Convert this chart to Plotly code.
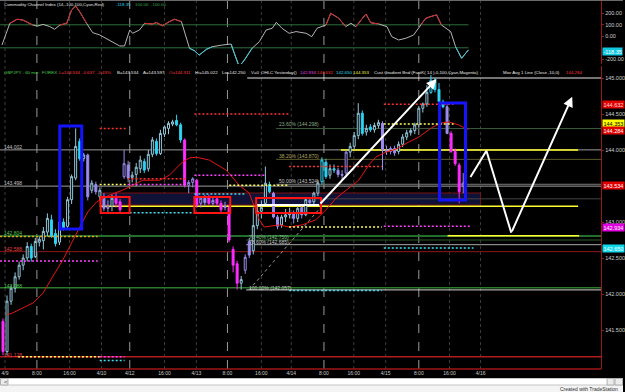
import plotly.graph_objects as go

# ---------------- data ----------------
bar_open = [141.62, 141.20, 141.90, 142.08, 142.24, 142.40, 142.50, 142.66, 142.52, 142.72,
            142.74, 142.86, 143.03, 142.84, 142.72, 143.00, 142.94, 143.31, 143.61, 144.12,
            143.88, 143.93, 143.44, 143.52, 143.35, 143.35, 143.19, 143.22, 143.33, 143.28,
            143.63, 143.79, 143.62, 143.66, 143.74, 143.84, 143.74, 143.94, 144.12, 143.95,
            144.22, 144.30, 144.36, 144.41, 144.35, 144.14, 143.51, 143.55, 143.58, 143.26,
            143.33, 143.35, 143.26, 143.32, 143.26, 143.20, 143.20, 142.62, 142.42, 142.15,
            142.33, 142.73, 142.60, 142.95, 143.15, 143.26, 143.52, 143.40, 143.07, 142.96,
            143.07, 143.10, 143.12, 143.05, 143.20, 143.10, 143.30, 143.28, 143.40, 143.56,
            143.83, 143.65, 143.74, 143.72, 143.66, 143.68, 143.97, 144.05, 144.20, 144.51,
            144.25, 144.32, 144.28, 144.34, 144.37, 144.00, 143.98, 144.02, 143.98, 144.08,
            144.18, 144.24, 144.27, 144.35, 144.58, 144.64, 144.80, 144.97, 144.84, 144.67,
            144.60, 144.23, 143.98, 143.79, 143.50]
bar_high = [141.66, 141.98, 142.12, 142.30, 142.45, 142.55, 142.72, 142.70, 142.78, 142.80,
            142.93, 143.12, 143.10, 142.90, 143.02, 143.05, 143.35, 143.66, 144.30, 144.16,
            143.96, 143.95, 143.58, 143.56, 143.48, 143.40, 143.30, 143.38, 143.40, 143.32,
            144.00, 143.85, 143.70, 143.82, 143.92, 143.88, 144.00, 144.18, 144.16, 144.28,
            144.34, 144.40, 144.42, 144.49, 144.38, 144.16, 143.58, 143.62, 143.60, 143.36,
            143.38, 143.38, 143.34, 143.36, 143.30, 143.28, 143.24, 142.66, 142.46, 142.25,
            142.55, 142.78, 143.20, 143.25, 143.30, 143.77, 143.56, 143.42, 143.10, 143.10,
            143.18, 143.20, 143.16, 143.25, 143.24, 143.34, 143.34, 143.42, 143.58, 143.90,
            143.88, 143.80, 143.80, 143.75, 143.72, 144.00, 144.10, 144.25, 144.65, 144.55,
            144.35, 144.36, 144.38, 144.42, 144.40, 144.06, 144.05, 144.06, 144.12, 144.22,
            144.28, 144.30, 144.38, 144.61, 144.66, 144.90, 145.04, 145.00, 144.93, 144.70,
            144.64, 144.26, 144.02, 143.82, 143.68]
bar_low = [141.15, 141.15, 141.85, 142.02, 142.20, 142.33, 142.45, 142.45, 142.50, 142.66,
           142.62, 142.80, 142.78, 142.66, 142.68, 142.88, 142.90, 143.25, 143.58, 143.85,
           143.84, 143.30, 143.40, 143.38, 143.30, 143.15, 143.14, 143.15, 143.20, 143.12,
           143.60, 143.55, 143.55, 143.50, 143.68, 143.68, 143.70, 143.90, 143.92, 143.93,
           144.18, 144.22, 144.33, 144.33, 144.10, 143.48, 143.40, 143.48, 143.20, 143.20,
           143.22, 143.24, 143.22, 143.22, 143.13, 143.16, 142.72, 142.30, 142.06, 142.06,
           142.28, 142.50, 142.55, 142.90, 143.05, 143.22, 143.40, 143.05, 142.90, 142.92,
           143.00, 143.05, 142.98, 143.00, 143.05, 143.08, 143.22, 143.24, 143.36, 143.52,
           143.60, 143.60, 143.68, 143.62, 143.58, 143.62, 143.90, 144.00, 144.15, 144.20,
           144.20, 144.25, 144.24, 144.30, 143.72, 143.93, 143.94, 143.92, 143.94, 144.04,
           144.14, 144.20, 144.22, 144.32, 144.52, 144.60, 144.78, 144.80, 144.64, 144.58,
           144.22, 143.96, 143.78, 143.26, 143.40]
bar_close = [141.20, 141.90, 142.08, 142.24, 142.40, 142.50, 142.66, 142.50, 142.73, 142.76,
             142.87, 143.05, 142.80, 142.70, 143.00, 142.91, 143.31, 143.63, 144.05, 143.88,
             143.93, 143.35, 143.54, 143.42, 143.44, 143.19, 143.22, 143.33, 143.26, 143.17,
             143.81, 143.61, 143.65, 143.76, 143.86, 143.72, 143.94, 144.14, 143.95, 144.23,
             144.32, 144.37, 144.39, 144.35, 144.14, 143.51, 143.55, 143.60, 143.24, 143.33,
             143.27, 143.26, 143.30, 143.26, 143.17, 143.22, 142.75, 142.40, 142.15, 142.20,
             142.51, 142.54, 142.95, 143.15, 143.20, 143.54, 143.42, 143.07, 142.94, 143.07,
             143.10, 143.12, 143.05, 143.19, 143.10, 143.31, 143.27, 143.40, 143.54, 143.86,
             143.63, 143.74, 143.72, 143.66, 143.65, 143.97, 144.05, 144.20, 144.51, 144.23,
             144.30, 144.28, 144.34, 144.38, 144.00, 143.98, 144.02, 143.96, 144.08, 144.18,
             144.24, 144.27, 144.35, 144.58, 144.64, 144.80, 144.97, 144.84, 144.67, 144.60,
             144.23, 143.98, 143.81, 143.42, 143.54]
# gradient colour class of each bar (g = light blue, c = cyan, l = lavender, m = magenta)
bar_class = ["m", "g", "g", "g", "g", "g", "g", "c", "g", "g",
             "g", "g", "c", "c", "g", "c", "g", "g", "g", "c",
             "g", "l", "g", "l", "g", "l", "l", "g", "m", "m",
             "l", "l", "g", "g", "g", "c", "g", "g", "c", "g",
             "g", "g", "g", "c", "c", "m", "l", "l", "m", "l",
             "l", "m", "l", "m", "m", "l", "m", "m", "m", "g",
             "l", "l", "g", "g", "g", "g", "c", "l", "l", "g",
             "g", "g", "l", "g", "l", "g", "l", "g", "g", "c",
             "c", "g", "c", "l", "l", "l", "g", "g", "g", "c",
             "g", "c", "g", "g", "l", "l", "l", "l", "g", "g",
             "g", "g", "g", "g", "g", "g", "c", "c", "c", "c",
             "l", "m", "m", "m", "l"]

# moving average (Close,10): (bar index, price)
ma_x = [1.0, 2.5, 7.4, 9.9, 12.3, 14.8, 17.0, 19.0, 21.0, 23.2, 26.4, 29.6, 32.1, 34.6, 38.8,
        41.2, 44.4, 46.2, 47.9, 51.1, 55.3, 56.8, 58.5, 61.0, 62.2, 63.5, 64.7, 68.4, 70.9,
        74.1, 77.5, 80.0, 82.5, 85.7, 88.1, 90.6, 92.3, 94.8, 97.3, 100.5, 103.0, 106.2,
        108.6, 110.4, 112.8, 115.3]
ma_y = [141.71, 141.74, 141.875, 142.01, 142.24, 142.47, 142.71, 142.93, 143.14, 143.28,
        143.375, 143.44, 143.51, 143.58, 143.58, 143.65, 143.83, 143.89, 143.90, 143.86,
        143.72, 143.625, 143.51, 143.40, 143.21, 143.03, 142.93, 142.96, 142.93, 142.96,
        143.03, 143.17, 143.33, 143.47, 143.58, 143.79, 143.90, 143.97, 144.01, 144.11,
        144.18, 144.31, 144.375, 144.39, 144.35, 144.284]

# Commodity Channel Index (14): (bar index, value)
cci_x = [-0.25, 1.7, 3.5, 4.9, 7.4, 8.6, 9.9, 11.6, 12.8, 14.1, 15.8, 17.0, 18.0, 19.0, 20.7,
         22.2, 24.0, 26.4, 28.9, 30.1, 31.4, 32.1, 33.8, 35.1, 37.0, 38.0, 39.5, 41.2, 42.5,
         44.2, 46.2, 47.4, 48.6, 50.4, 51.9, 54.3, 56.5, 57.3, 58.5, 59.8, 61.7, 63.5, 65.2,
         66.7, 67.7, 69.1, 70.9, 72.6, 75.1, 76.5, 77.8, 80.0, 81.2, 83.2, 84.9, 86.2, 87.4,
         89.9, 91.1, 93.1, 95.1, 96.3, 98.0, 99.8, 101.7, 103.5, 104.7, 105.9, 107.4, 108.6,
         110.9, 112.1, 113.6, 115.3]
cci_v = [-76, 113, 148, 142, 98, 89, 104, 84, 61, 98, 113, 229, 263, 214, 113,
         32, 11, -32, -84, -84, 55, 26, 55, 113, 107, 119, 92, 127, 148,
         127, -104, -125, -163, -113, -90, -76, -67, -148, -264, -206, -104, -47, 55,
         70, 122, 70, 26, 41, 26, -3, 70, 99, 200, 156, 84, 113, 84,
         194, 118, 107, 84, -3, -32, -17, 11, 98, 156, 171, 186, 98,
         41, -90, -191, -118.35]

# hand-drawn projection (zig-zag) and trend arrow, in (bar index, price)
proj_x = [115.8, 119.75, 125.9, 141.0]
proj_y = [143.625, 143.99, 142.85, 144.74]
trend_x = [62.7, 78.3, 107.4]
trend_y = [143.236, 143.236, 144.986]
fibline_x = [61.0, 78.8]
fibline_y = [142.06, 143.21]

tick_pos = [0.5, 8.4, 16.5, 24.4, 31.4, 40.0, 47.9, 55.6, 64.0, 71.4, 79.5, 86.9, 94.8, 103.0, 110.6, 118.3]
tick_lbl = ["4/9", "8:00", "16:00", "4/10", "4/12", "16:00", "4/13", "8:00", "16:00", "4/14",
            "8:00", "16:00", "4/15", "8:00", "16:00", "4/16"]
price_ticks = [141.5, 142.0, 142.5, 143.0, 144.0, 144.5, 145.0]
cci_ticks = [-200, 0, 100, 200]

# ---------------- geometry helpers (pixel -> axis units) ----------------
W, H = 625, 392
PX0, PXB = 3.0, 4.05


def X(px):
    return (px - PX0) / PXB


def P(py):
    return 145 - (py - 78) / 72.0


def C(py):
    return (36.3 - py) / 0.115


def yp(py):
    return 1 - py / H


def xp(px):
    return px / W


FONT = "Liberation Sans, Arial, sans-serif"
fig = go.Figure()

# ---------------- CCI panel ----------------
fig.add_trace(go.Scatter(x=cci_x, y=cci_v, mode="lines", line=dict(color="#b4b4b4", width=1),
                         xaxis="x2", yaxis="y2", hoverinfo="skip", showlegend=False))
for cond, col in ((lambda m: m > 100, "#d42020"), (lambda m: m < -100, "#3cc8dc")):
    xs, ys = [], []
    for i in range(len(cci_x) - 1):
        if cond((cci_v[i] + cci_v[i + 1]) / 2):
            xs += [cci_x[i], cci_x[i + 1], None]
            ys += [cci_v[i], cci_v[i + 1], None]
    fig.add_trace(go.Scatter(x=xs, y=ys, mode="lines", line=dict(color=col, width=1),
                             xaxis="x2", yaxis="y2", hoverinfo="skip", showlegend=False))

# ---------------- candles (one trace per colour class) ----------------
class_col = {"g": "#93c6da", "c": "#2fd2f2", "l": "#9c8cf0", "m": "#ff2cff"}
for k, col in class_col.items():
    idx = [i for i, c in enumerate(bar_class) if c == k]
    fig.add_trace(go.Candlestick(
        x=idx, open=[bar_open[i] for i in idx], high=[bar_high[i] for i in idx],
        low=[bar_low[i] for i in idx], close=[bar_close[i] for i in idx],
        increasing=dict(line=dict(color=col, width=1), fillcolor="#000000"),
        decreasing=dict(line=dict(color=col, width=1), fillcolor=col),
        whiskerwidth=0, hoverinfo="skip", showlegend=False, xaxis="x", yaxis="y"))

fig.add_trace(go.Scatter(x=ma_x, y=ma_y, mode="lines", line=dict(color="#e81414", width=1),
                         hoverinfo="skip", showlegend=False))
fig.add_trace(go.Scatter(x=fibline_x, y=fibline_y, mode="lines",
                         line=dict(color="#9a9a9a", width=1, dash="dot"), hoverinfo="skip", showlegend=False))
fig.add_trace(go.Scatter(x=trend_x[:2], y=trend_y[:2], mode="lines",
                         line=dict(color="#ffffff", width=2), hoverinfo="skip", showlegend=False))
fig.add_trace(go.Scatter(x=proj_x[:3], y=proj_y[:3], mode="lines",
                         line=dict(color="#ffffff", width=2), hoverinfo="skip", showlegend=False))

shapes = []
annotations = []

# vertical session/time grid
for pos, lbl in zip(tick_pos, tick_lbl):
    bright = lbl in ("8:00", "4/12")
    shapes.append(dict(type="line", xref="x", yref="paper", x0=pos, x1=pos, y0=yp(369), y1=yp(1),
                       line=dict(color="#9a9a9a" if bright else "#3c3c3c", width=1,
                                 dash="dash" if bright else "dot"), layer="below"))

# CCI +/-100 lines
for v in (100, -100):
    shapes.append(dict(type="line", xref="x2", yref="y2", x0=X(0), x1=X(470), y0=v, y1=v,
                       line=dict(color="#2e6e3c", width=1), layer="below"))

# hatched zone
shapes.append(dict(type="rect", xref="x", yref="y", x0=X(100), x1=X(482), y0=P(205), y1=P(193),
                   fillcolor="#0f1236", line=dict(color="#7a1010", width=1), layer="below"))

# solid horizontal levels: (price, x0 px, x1 px, colour, width)
solid_levels = [
    (145.000, 248, 603, "#e8e8e8", 1),
    (144.002, 0, 603, "#9c9c9c", 1),
    (143.498, 0, 603, "#9c9c9c", 1),
    (142.804, 0, 603, "#226e2c", 2),
    (142.588, 0, 603, "#8c1818", 1),
    (142.088, 0, 603, "#2a7a2a", 1.5),
    (141.128, 0, 603, "#b01c1c", 1.5),
    (144.298, 277, 603, "#3a5a3a", 1),
    (143.870, 277, 603, "#5c5a2a", 1),
    (143.524, 277, 603, "#7a7a7a", 1),
    (143.322, 277, 603, "#444444", 1),
    (142.750, 247, 603, "#2b5f2b", 1),
    (142.685, 247, 603, "#a8a8a8", 1),
    (142.057, 247, 603, "#d4d4d4", 1),
    (143.220, 100, 580, "#ffff30", 1.5),
    (144.000, 342, 580, "#ffff30", 1.5),
    (142.810, 449, 581, "#ffff30", 1.5),
]
for pr, a, b, col, w in solid_levels:
    shapes.append(dict(type="line", xref="x", yref="y", x0=X(a), x1=X(b), y0=pr, y1=pr,
                       line=dict(color=col, width=w), layer="below"))

# dashed level segments: (price, x0 px, x1 px, colour)
dashed_levels = [
    (144.300, 100, 126, "#ff3030"), (144.500, 195, 290, "#ff3030"), (144.635, 385, 455, "#ff3030"),
    (143.770, 290, 383, "#ff3030"), (143.600, 128, 187, "#ff3030"),
    (143.520, 100, 128, "#ffff60"), (143.520, 128, 187, "#ff40ff"),
    (143.650, 195, 267, "#ff40ff"), (143.510, 230, 290, "#ffff60"),
    (143.130, 130, 193, "#40e0f0"), (143.390, 195, 247, "#40e0f0"),
    (142.460, 0, 98, "#ff40ff"), (142.800, 0, 98, "#e0a020"),
    (142.940, 385, 472, "#ff40ff"), (142.930, 290, 383, "#ffff60"),
    (144.360, 385, 455, "#ffff60"), (142.640, 385, 475, "#40e0f0"),
    (142.050, 290, 383, "#40e0f0"), (141.130, 18, 100, "#ffff60"),
    (141.130, 100, 125, "#ff40ff"), (141.075, 100, 125, "#40e0f0"),
]
for pr, a, b, col in dashed_levels:
    shapes.append(dict(type="line", xref="x", yref="y", x0=X(a), x1=X(b), y0=pr, y1=pr,
                       line=dict(color=col, width=1.5, dash="2px,2px")))

# highlight boxes
for a, b, t, bt in ((60, 82, 126, 229), (441, 467, 103, 200)):
    shapes.append(dict(type="rect", xref="x", yref="y", x0=X(a), x1=X(b), y0=P(bt), y1=P(t),
                       line=dict(color="#1414ff", width=3)))
for a, b, t, bt in ((101, 130, 197, 213), (195, 231, 197, 213), (257, 322, 198, 213)):
    shapes.append(dict(type="rect", xref="x", yref="y", x0=X(a), x1=X(b), y0=P(bt), y1=P(t),
                       line=dict(color="#ff1414", width=2)))

# frame
shapes += [
    dict(type="line", xref="paper", yref="paper", x0=0, x1=xp(603), y0=yp(369), y1=yp(369),
         line=dict(color="#a01616", width=1.5)),
    dict(type="line", xref="paper", yref="paper", x0=0, x1=1, y0=yp(0.5), y1=yp(0.5),
         line=dict(color="#6a6a6a", width=1)),
    dict(type="rect", xref="paper", yref="paper", x0=0, x1=1, y0=0, y1=yp(378),
         fillcolor="#f4f4f4", line=dict(width=0)),
    dict(type="rect", xref="paper", yref="paper", x0=xp(0.5), x1=xp(624.5), y0=yp(385), y1=yp(378.5),
         fillcolor="#ffffff", line=dict(color="#c4c4c4", width=1)),
    dict(type="rect", xref="paper", yref="paper", x0=xp(0.5), x1=xp(8), y0=yp(385), y1=yp(378.5),
         fillcolor="#ececec", line=dict(color="#b0b0b0", width=1)),
    dict(type="rect", xref="paper", yref="paper", x0=xp(609), x1=xp(616), y0=yp(385), y1=yp(378.5),
         fillcolor="#ececec", line=dict(color="#b0b0b0", width=1)),
    dict(type="rect", xref="paper", yref="paper", x0=xp(617), x1=xp(624.5), y0=yp(385), y1=yp(378.5),
         fillcolor="#ececec", line=dict(color="#b0b0b0", width=1)),
]

# arrows
annotations.append(dict(x=trend_x[2], y=trend_y[2], ax=trend_x[1], ay=trend_y[1], xref="x", yref="y",
                        axref="x", ayref="y", showarrow=True, arrowhead=2, arrowsize=1, arrowwidth=2,
                        arrowcolor="#ffffff", text=""))
annotations.append(dict(x=proj_x[3], y=proj_y[3], ax=proj_x[2], ay=proj_y[2], xref="x", yref="y",
                        axref="x", ayref="y", showarrow=True, arrowhead=2, arrowsize=1, arrowwidth=2,
                        arrowcolor="#ffffff", text=""))


def txt(s, px, py, col, size=5, anchor="left", bg=None):
    d = dict(text=s, x=xp(px), y=yp(py), xref="paper", yref="paper", xanchor=anchor, yanchor="middle",
             showarrow=False, font=dict(family=FONT, size=size, color=col))
    if bg:
        d.update(bgcolor=bg, borderpad=0.5)
    annotations.append(d)


# CCI title
txt("Commodity Channel Index (14,-100,100,Cyan,Red)", 2, 5, "#e0e0e0", 4.4)
txt("-118.35", 114, 5, "#3cd6ec", 4.4)
txt("100.00", 133, 5, "#3ca64c", 4.4)
txt("-100.00", 149, 5, "#3ca64c", 4.4)
txt("-118.35", 604, 51.5, "#ffffff", 5.5, bg="#12c8e0")

# price header
header = [
    ("GBPJPY - 60 min", 2, "#46d046"), ("FOREX", 40, "#46d046"), ("L=143.534", 57, "#ff3a3a"),
    ("-0.637", 80, "#ff3a3a"), ("-0.43%", 95, "#ff3a3a"), ("B=143.534", 115, "#e8e8e8"),
    ("A=143.597", 141, "#e8e8e8"), ("O=144.311", 168, "#ff3a3a"), ("Hi=145.022", 194, "#e8e8e8"),
    ("Lo=142.250", 221, "#e8e8e8"), ("V=0", 250, "#e8e8e8"), ("OHLC Yesterday()", 260, "#e8e8e8"),
    ("142.934", 299, "#e040e0"), ("144.632", 316.5, "#ff3a3a"), ("142.650", 335, "#3cd6ec"),
    ("144.353", 352, "#f0f040"), ("Cust Gradient Bnd (FastK( 14 ),0,100,Cyan,Magenta)", 373, "#e8e8e8"),
    ("Mov Avg 1 Line (Close ,10,0)", 503, "#e8e8e8"), ("144.284", 566, "#ff3a3a"),
]
for s, px, col in header:
    txt(s, px, 72, col, 4.4)

# left level labels
for s, py, col in (("144.002", 146.5, "#c4c4c4"), ("143.498", 183.5, "#c4c4c4"), ("142.804", 233, "#4cc84c"),
                   ("142.588", 249, "#e04040"), ("142.088", 286, "#4cc84c"), ("141.128", 355, "#e04040")):
    txt(s, 2, py, col)

# fibonacci labels
for s, px, py, col in (("23.60% (144.298)", 278, 124, "#86a886"), ("38.20% (143.870)", 278, 156, "#b4a864"),
                       ("50.00% (143.524)", 278, 181, "#c4c4c4"), ("76.40% (142.750)", 248, 236.5, "#86b486"),
                       ("78.60% (142.685)", 248, 242, "#c4c4c4"), ("100.00% (142.057)", 248, 287.5, "#d0d0d0")):
    txt(s, px, py, col)

# right-axis value boxes
for s, py, bg, fg in (("144.632", 105, "#e00000", "#ffd8d8"), ("144.353", 123.5, "#ffff00", "#000000"),
                      ("144.284", 130, "#e00000", "#ffffff"), ("143.534", 185.3, "#e00000", "#ffffff"),
                      ("142.934", 227, "#e000e0", "#ffffff"), ("142.650", 248.7, "#10d8ec", "#ffffff")):
    txt(s, 604, py, fg, 5.5, bg=bg)

txt("<", 2, 381.8, "#404040", 6)
txt("Created with TradeStation", 622, 388.8, "#303030", 5, anchor="right")

fig.update_layout(
    width=W, height=H, margin=dict(l=0, r=0, t=0, b=0),
    paper_bgcolor="#000000", plot_bgcolor="#000000",
    font=dict(family=FONT, size=5, color="#d0d0d0"),
    showlegend=False, shapes=shapes, annotations=annotations,
    xaxis=dict(domain=[0, xp(603)], range=[X(0), X(603)], tickvals=tick_pos, ticktext=tick_lbl,
               tickfont=dict(size=5, color="#c8c8c8"), showgrid=False, zeroline=False, ticks="",
               showline=False, rangeslider=dict(visible=False), anchor="y"),
    xaxis2=dict(domain=[0, xp(603)], range=[X(0), X(603)], matches="x", showticklabels=False,
                showgrid=False, zeroline=False, anchor="y2"),
    yaxis=dict(domain=[yp(369), yp(66)], range=[P(369), P(66)], side="right", tickvals=price_ticks,
               ticktext=["%.3f" % v for v in price_ticks], tickfont=dict(size=5.5, color="#d0d0d0"),
               showgrid=False, zeroline=False, showline=True, linecolor="#9a1818", linewidth=1,
               ticks="outside", ticklen=2, tickcolor="#9a1818", anchor="x"),
    yaxis2=dict(domain=[yp(64), 1], range=[C(64), C(0)], side="right", tickvals=cci_ticks,
                ticktext=["%.2f" % v for v in cci_ticks], tickfont=dict(size=5.5, color="#d0d0d0"),
                showgrid=False, zeroline=False, showline=True, linecolor="#9a1818", linewidth=1,
                ticks="outside", ticklen=2, tickcolor="#9a1818", anchor="x2"),
)

fig.write_html("out.html")
